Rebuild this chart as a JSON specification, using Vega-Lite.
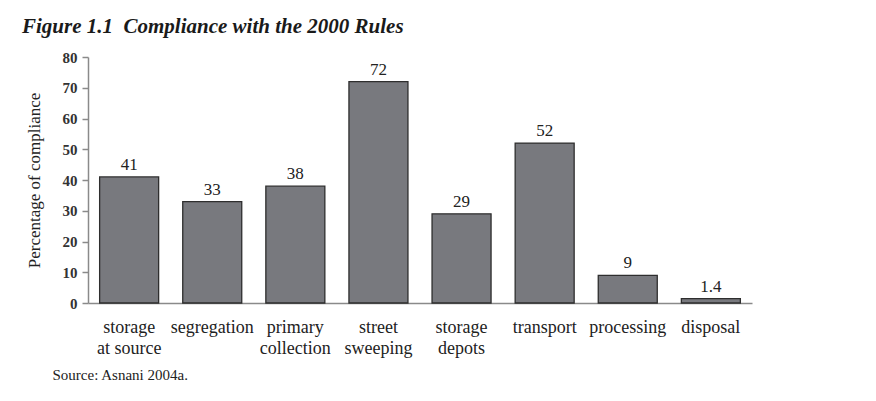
{
  "$schema": "https://vega.github.io/schema/vega-lite/v6.json",
  "autosize": "none",
  "width": 664,
  "height": 246,
  "padding": {"left": 88, "top": 57, "right": 124, "bottom": 98},
  "background": "white",
  "title": {
    "text": "Figure 1.1\u00a0 Compliance with the 2000 Rules",
    "anchor": "start",
    "frame": "group",
    "dx": -66,
    "offset": 13,
    "font": "Liberation Serif",
    "fontSize": 21,
    "fontStyle": "italic",
    "fontWeight": "bold",
    "color": "#1a1a1a"
  },
  "config": {
    "view": {"stroke": null},
    "font": "Liberation Serif"
  },
  "data": {
    "values": [
      {"category": "storage\nat source", "value": 41, "label": "41"},
      {"category": "segregation", "value": 33, "label": "33"},
      {"category": "primary\ncollection", "value": 38, "label": "38"},
      {"category": "street\nsweeping", "value": 72, "label": "72"},
      {"category": "storage\ndepots", "value": 29, "label": "29"},
      {"category": "transport", "value": 52, "label": "52"},
      {"category": "processing", "value": 9, "label": "9"},
      {"category": "disposal", "value": 1.4, "label": "1.4"}
    ]
  },
  "encoding": {
    "x": {
      "field": "category",
      "type": "nominal",
      "sort": null,
      "scale": {"paddingInner": 0.29, "paddingOuter": 0.14},
      "axis": {
        "title": "Source: Asnani 2004a.",
        "titleFont": "Liberation Serif",
        "titleFontSize": 15,
        "titleFontWeight": "normal",
        "titleColor": "#222",
        "titleAnchor": "start",
        "titleAlign": "left",
        "titleBaseline": "middle",
        "titleX": -36,
        "titleY": 71,
        "labelAngle": 0,
        "labelExpr": "split(datum.value, '\\n')",
        "labelFont": "Liberation Serif",
        "labelFontSize": 18,
        "labelColor": "#222",
        "labelLineHeight": 21,
        "labelPadding": 29,
        "labelBaseline": "alphabetic",
        "ticks": false,
        "domainColor": "#8a8a8a",
        "domainWidth": 1.5
      }
    },
    "y": {
      "field": "value",
      "type": "quantitative",
      "scale": {"domain": [0, 80]},
      "axis": {
        "title": "Percentage of compliance",
        "titleFont": "Liberation Serif",
        "titleFontSize": 17,
        "titleFontWeight": "normal",
        "titleColor": "#222",
        "titleX": -54,
        "titleY": 123,
        "titleAngle": -90,
        "titleAlign": "center",
        "titleBaseline": "middle",
        "values": [0, 10, 20, 30, 40, 50, 60, 70, 80],
        "labelFont": "Liberation Serif",
        "labelFontSize": 15,
        "labelFontWeight": "bold",
        "labelColor": "#333",
        "labelPadding": 5,
        "tickSize": 6,
        "tickColor": "#8a8a8a",
        "tickWidth": 1.5,
        "domainColor": "#8a8a8a",
        "domainWidth": 1.5,
        "grid": false
      }
    }
  },
  "layer": [
    {
      "mark": {"type": "bar", "fill": "#78797e", "stroke": "#2e2e2e", "strokeWidth": 1.3}
    },
    {
      "mark": {"type": "text", "dy": -12, "fontSize": 17, "font": "Liberation Serif", "color": "#222"},
      "encoding": {"text": {"field": "label"}}
    }
  ]
}
